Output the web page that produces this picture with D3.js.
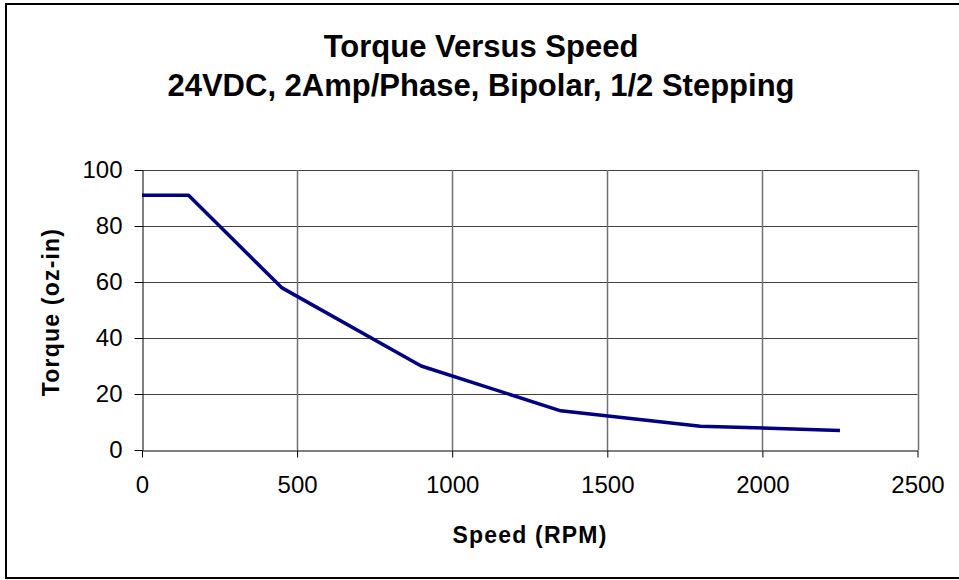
<!DOCTYPE html>
<html>
<head>
<meta charset="utf-8">
<script src="https://cdn.jsdelivr.net/npm/d3@7"></script>
<style>
    body { margin: 0; background: #fff; }
    svg { display: block; font-family: Arial, "Liberation Sans", sans-serif; }
</style>
</head>
<body>
<div id="chart"></div>
<script>
// data
const speed = [0, 150, 450, 900, 1350, 1800, 2250];
const torque = [91, 91, 58, 30, 14, 8.5, 7];
const xTicks = [0, 500, 1000, 1500, 2000, 2500];
const yTicks = [0, 20, 40, 60, 80, 100];
const titleLines = ["Torque Versus Speed", "24VDC, 2Amp/Phase, Bipolar, 1/2 Stepping"];

const width = 959;
const height = 580;
const margin = { top: 170, right: 42, bottom: 130, left: 142 };

const svg = d3.select("#chart").append("svg")
    .attr("width", width)
    .attr("height", height);

// outer frame
svg.append("rect")
    .attr("x", 6)
    .attr("y", 4)
    .attr("width", 965)
    .attr("height", 574)
    .attr("fill", "#fff")
    .attr("stroke", "#000")
    .attr("stroke-width", 2);

const x = d3.scaleLinear().domain([0, 2500]).range([margin.left, width - margin.right + 0.5]);
const y = d3.scaleLinear().domain([0, 100]).range([height - margin.bottom, margin.top]);

// gridlines
svg.append("g")
    .selectAll("line")
    .data(yTicks.slice(1))
    .join("line")
    .attr("x1", x(0))
    .attr("x2", x(2500))
    .attr("y1", d => Math.round(y(d)) + 0.5)
    .attr("y2", d => Math.round(y(d)) + 0.5)
    .attr("stroke", "#404040");

svg.append("g")
    .selectAll("line")
    .data(xTicks.slice(1))
    .join("line")
    .attr("x1", d => Math.round(x(d)) + 0.5)
    .attr("x2", d => Math.round(x(d)) + 0.5)
    .attr("y1", y(0))
    .attr("y2", y(100))
    .attr("stroke", "#707070")
    .attr("stroke-width", 1.5);

// axes
const fmt = d3.format("d");
const xAxis = svg.append("g")
    .attr("transform", `translate(0,${Math.round(y(0)) + 0.5})`)
    .call(d3.axisBottom(x).tickValues(xTicks).tickFormat(fmt).tickSize(7).tickPadding(18).tickSizeOuter(0));

const yAxis = svg.append("g")
    .attr("transform", `translate(${Math.round(x(0)) + 0.5},0)`)
    .call(d3.axisLeft(y).tickValues(yTicks).tickFormat(fmt).tickSize(8).tickPadding(12).tickSizeOuter(0));

[xAxis, yAxis].forEach(a => {
    a.select(".domain").attr("stroke", "#000");
    a.selectAll(".tick line").attr("stroke", "#000");
    a.selectAll(".tick text")
        .attr("fill", "#000")
        .style("font-size", "24px")
        .style("font-family", "Arial, 'Liberation Sans', sans-serif");
});
xAxis.selectAll(".tick text").attr("dy", "0.71em");

// the curve
const line = d3.line()
    .x((d, i) => x(speed[i]))
    .y(d => y(d));

svg.append("path")
    .datum(torque)
    .attr("d", line)
    .attr("fill", "none")
    .attr("stroke", "#000080")
    .attr("stroke-width", 3.5)
    .attr("stroke-linejoin", "round");

// titles
svg.append("g")
    .selectAll("text")
    .data(titleLines)
    .join("text")
    .attr("x", 481)
    .attr("y", (d, i) => 57 + i * 39)
    .attr("text-anchor", "middle")
    .attr("font-weight", "bold")
    .attr("font-size", 31)
    .text(d => d);

svg.append("text")
    .attr("x", 530)
    .attr("y", 543)
    .attr("text-anchor", "middle")
    .attr("font-weight", "bold")
    .attr("font-size", 23)
    .attr("letter-spacing", 1.2)
    .text("Speed (RPM)");

svg.append("text")
    .attr("transform", "translate(59,312) rotate(-90)")
    .attr("text-anchor", "middle")
    .attr("font-weight", "bold")
    .attr("font-size", 23)
    .attr("letter-spacing", 1.2)
    .text("Torque (oz-in)");
</script>
</body>
</html>
